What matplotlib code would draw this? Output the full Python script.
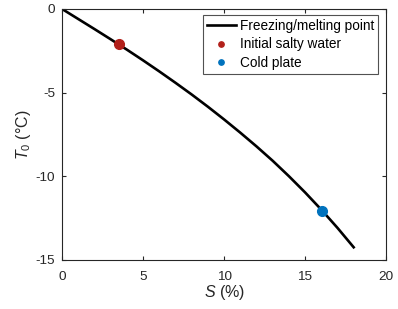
import matplotlib
matplotlib.use("Agg")
import matplotlib.pyplot as plt

plt.rcParams["font.family"] = ["Liberation Sans", "DejaVu Sans"]
plt.rcParams["mathtext.fontset"] = "custom"
plt.rcParams["mathtext.it"] = "Liberation Sans:italic"
plt.rcParams["mathtext.rm"] = "Liberation Sans"
plt.rcParams["axes.unicode_minus"] = False

# freezing/melting point curve
salinity = [0, 1, 2, 3, 4, 5, 6, 7, 8, 9, 10, 11, 12, 13, 14, 15, 16, 17, 18]
t_freeze = [0, -0.6, -1.2, -1.81, -2.43, -3.07, -3.73, -4.41, -5.11, -5.84,
            -6.6, -7.39, -8.21, -9.07, -9.99, -10.96, -11.99, -13.08, -14.24]

# marked states
s_initial = [3.5]
t_initial = [-2.11]
s_plate = [16.07]
t_plate = [-12.1]

axis_col = "#262626"

fig = plt.figure(figsize=(3.98, 3.09), dpi=100)
ax = fig.add_axes([0.156, 0.1586, 0.814, 0.8123])

ax.plot(salinity, t_freeze, color="black", lw=1.9, label="Freezing/melting point")
ax.plot(s_initial, t_initial, "o", color="#B2201A", ms=7, label="Initial salty water")
ax.plot(s_plate, t_plate, "o", color="#0072BD", ms=7, label="Cold plate")

ax.set_xlim(0, 20)
ax.set_ylim(-15, 0)
ax.set_xticks([0, 5, 10, 15, 20])
ax.set_yticks([0, -5, -10, -15])
ax.tick_params(direction="in", top=True, right=True, length=3, width=0.8,
               labelsize=9.7, colors=axis_col)
ax.tick_params(axis="x", pad=8)
ax.tick_params(axis="y", pad=5)
for sp in ax.spines.values():
    sp.set_color(axis_col)
    sp.set_linewidth(0.8)

ax.set_xlabel("$S$ (%)", fontsize=11.5, color=axis_col, labelpad=0)
ax.set_ylabel("$T_0$ ($\\degree$C)", fontsize=11.5, color=axis_col, labelpad=2)

leg = ax.legend(loc="upper right", fontsize=9.8, markerscale=0.55, frameon=True,
                fancybox=False, edgecolor=axis_col, borderpad=0.3,
                labelspacing=0.32, handlelength=2.1, handletextpad=0.3,
                bbox_to_anchor=(0.975, 0.976), borderaxespad=0)
leg.get_frame().set_linewidth(0.8)

fig.savefig("out.png", dpi=100)
